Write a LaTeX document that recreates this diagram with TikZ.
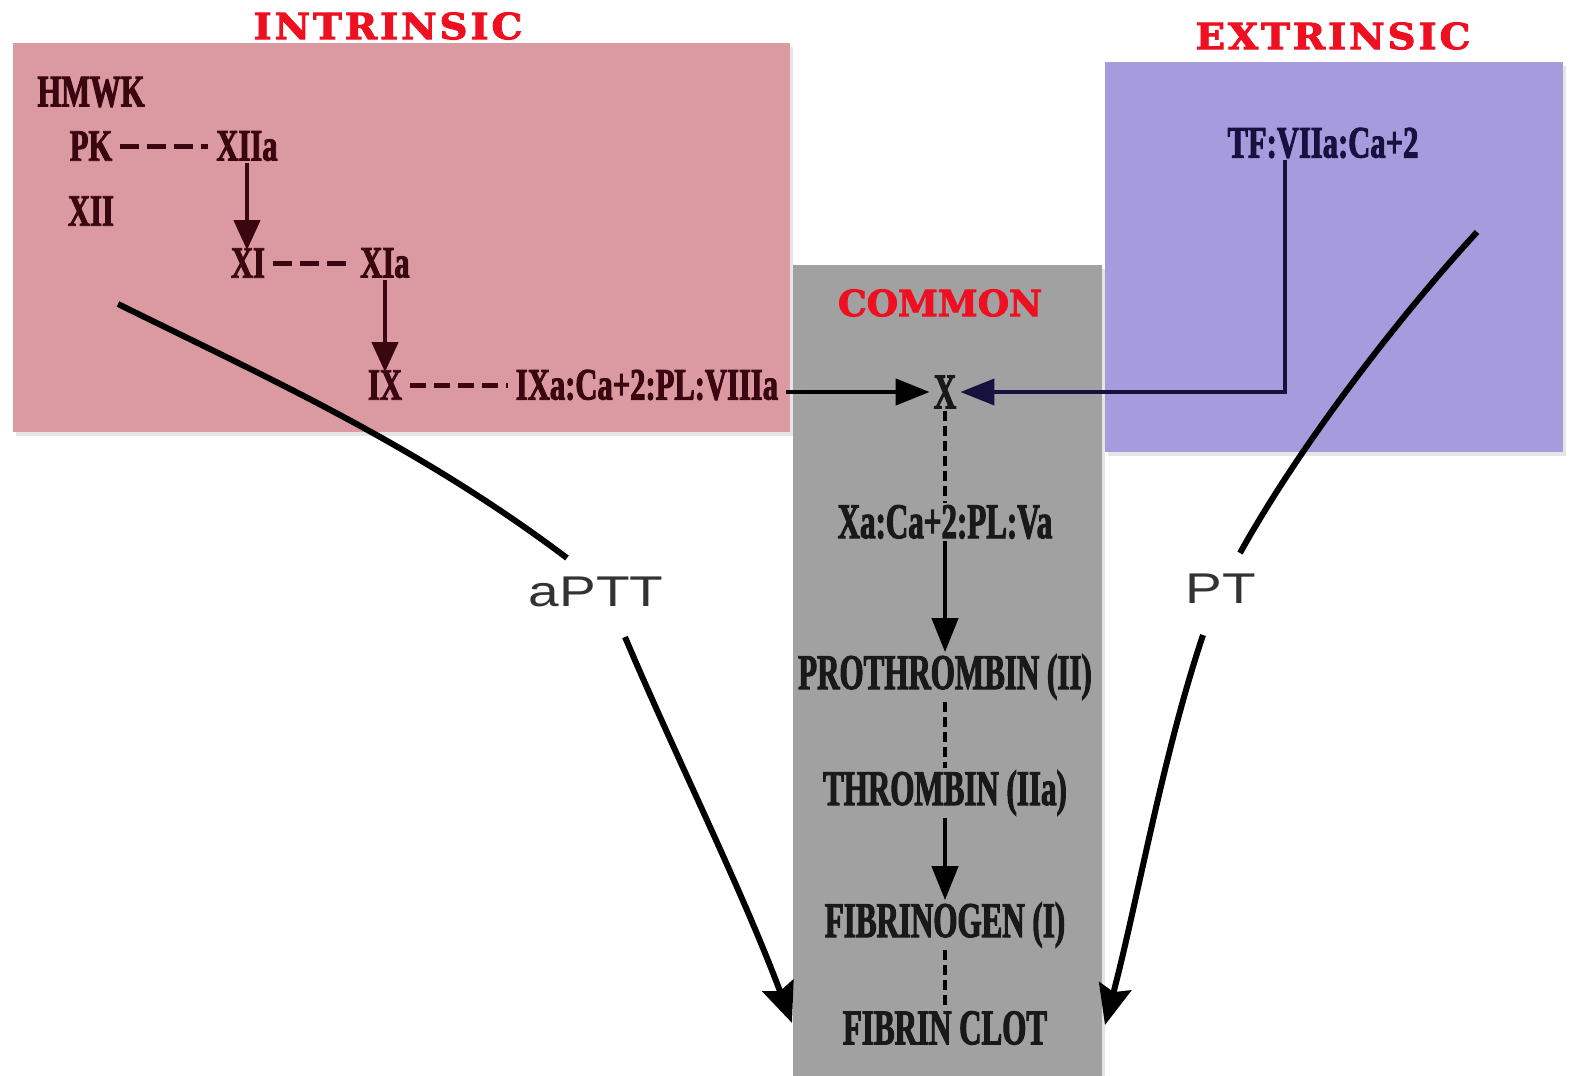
\documentclass[tikz,border=0pt]{standalone}
\usepackage{fontspec}
\usetikzlibrary{arrows.meta,shadows}
\newfontfamily\labfont[FakeStretch=0.68,FakeBold=2]{Liberation Serif}
\newfontfamily\comfont[FakeStretch=0.62,FakeBold=2]{Liberation Serif}
\newfontfamily\titfont[LetterSpace=8,FakeStretch=1.08,FakeBold=2.5]{DejaVu Serif}
\newfontfamily\commonfont[FakeBold=2.5]{DejaVu Serif}
\newfontfamily\testfont[FakeStretch=1.28]{Liberation Sans}
\definecolor{pinkbox}{HTML}{DB9AA1}
\definecolor{purplebox}{HTML}{A69BDC}
\definecolor{graybox}{HTML}{A1A1A1}
\definecolor{titred}{HTML}{EE1020}
\definecolor{maroon}{HTML}{3A0710}
\definecolor{navy}{HTML}{17113F}
\tikzset{
  panel/.style={draw=none, drop shadow={opacity=0.2, shadow xshift=3pt, shadow yshift=-4pt}},
  title/.style={text=titred, inner sep=0pt, font=\titfont\bfseries\fontsize{36}{40}\selectfont},
  factor/.style={inner sep=2pt, font=\labfont\bfseries\fontsize{45}{48}\selectfont},
  ifactor/.style={factor, text=maroon},
  cfactor/.style={factor, text=black!90, font=\comfont\bfseries\fontsize{50}{54}\selectfont},
  testlbl/.style={inner sep=0pt, font=\testfont\fontsize{43}{46}\selectfont, text=black!80},
  dashlink/.style={line width=5pt, dash pattern=on 19pt off 8pt, shorten <=6pt, shorten >=6pt},
  vdash/.style={line width=4.5pt, dash pattern=on 10pt off 5pt},
  iarrow/.style={line width=4.5pt, -{Triangle[length=30pt,width=26pt]}},
  carrow/.style={line width=4.5pt, -{Triangle[length=34pt,width=26pt]}},
  bigarrow/.style={line width=6pt, -{Stealth[length=40pt,width=33pt,inset=6pt]}},
}
\begin{document}
\begin{tikzpicture}[x=1pt,y=-1pt]
\useasboundingbox (0,0) rectangle (1575,1076);
\fill[white] (0,0) rectangle (1575,1076);

% pathway panels
\fill[pinkbox, panel] (13,43) rectangle (790,432);
\fill[purplebox, panel] (1105,62) rectangle (1563,452);
\fill[graybox, panel] (793,265) rectangle (1102,1076);

% panel titles
\node[title] (tint) at (388,26) {INTRINSIC};
\node[title] (text) at (1333,36) {EXTRINSIC};
\node[title, font=\commonfont\bfseries\fontsize{36}{40}\selectfont] (tcom) at (940,303) {COMMON};

% intrinsic pathway
\node[ifactor] (hmwk) at (91,92) {HMWK};
\node[ifactor] (pk) at (91,146) {PK};
\node[ifactor] (xiia) at (247,146) {XIIa};
\node[ifactor] (xii) at (91,211) {XII};
\node[ifactor] (xi) at (248,263) {XI};
\node[ifactor] (xia) at (385,263) {XIa};
\node[ifactor] (ix) at (385,385) {IX};
\node[ifactor] (ixa) at (647,385) {IXa:Ca+2:PL:VIIIa};

\draw[maroon, dashlink] (pk.east) -- (xiia.west);
\draw[maroon, dashlink] (xi.east) -- (xia.west);
\draw[maroon, dashlink, dash pattern=on 16pt off 8pt] (ix.east) -- (ixa.west);
\draw[maroon, iarrow] (xiia.south) -- ([yshift=-4pt]xi.north -| xiia.south);
\draw[maroon, iarrow] (xia.south) -- ([yshift=-4pt]ix.north -| xia.south);

% extrinsic pathway
\node[factor, text=navy] (tf) at (1323,143) {TF:VIIa:Ca+2};

% common pathway
\node[cfactor] (x) at (945,392) {X};
\node[cfactor] (xa) at (945,522) {Xa:Ca+2:PL:Va};
\node[cfactor] (pro) at (945,677) {PROTHROMBIN (II)};
\node[cfactor] (thr) at (945,793) {THROMBIN (IIa)};
\node[cfactor] (fbg) at (945,925) {FIBRINOGEN (I)};
\node[cfactor] (clot) at (945,1028) {FIBRIN CLOT};

\draw[carrow] ([xshift=6pt]ixa.east |- x.west) -- ([xshift=-2pt]x.west);
\coordinate (tfdrop) at (1285,0);
\draw[navy, line width=4pt, -{Triangle[length=34pt,width=26pt]}] (tf.south -| tfdrop) |- ([xshift=2pt]x.east);
\draw[vdash] (x.south) -- (xa.north);
\draw[carrow] (xa.south) -- (pro.north);
\draw[vdash] (pro.south) -- (thr.north);
\draw[carrow] (thr.south) -- (fbg.north);
\draw[vdash] (fbg.south) -- (clot.north);

% clotting test routes
\node[testlbl] (aptt) at (596,592) {aPTT};
\node[testlbl] (pt) at (1221,589) {PT};
\coordinate (aptt0) at (118,304);
\coordinate (aptt1) at (567,558);
\coordinate (aptt2) at (625,637);
\coordinate (pt0) at (1477,232);
\coordinate (pt1) at (1240,553);
\coordinate (pt2) at (1203,635);
\coordinate (clotL) at (792,1023);
\coordinate (clotR) at (1105,1025);

\draw[line width=6pt] (aptt0) .. controls (268,378) and (417,445) .. (aptt1);
\draw[bigarrow] (aptt2) .. controls (675,755) and (740,885) .. (clotL);
\draw[line width=6pt] (pt0) .. controls (1398,318) and (1300,445) .. (pt1);
\draw[bigarrow] (pt2) .. controls (1162,758) and (1138,899) .. (clotR);
\end{tikzpicture}
\end{document}
